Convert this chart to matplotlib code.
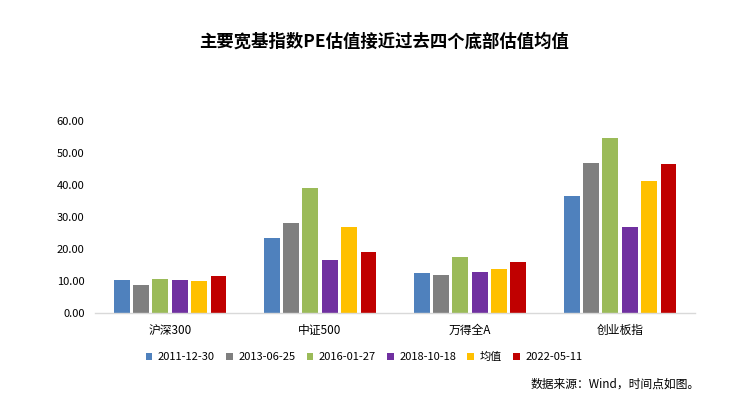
"""主要宽基指数PE估值对比图。"""
import numpy as np
import matplotlib
matplotlib.use("Agg")
import matplotlib.pyplot as plt

plt.rcParams["font.family"] = ["Noto Sans CJK SC", "DejaVu Sans"]

indices = ["沪深300", "中证500", "万得全A", "创业板指"]
series_names = ["2011-12-30", "2013-06-25", "2016-01-27", "2018-10-18", "均值", "2022-05-11"]
pe_2011 = [10.2, 23.4, 12.4, 36.5]
pe_2013 = [8.7, 28.0, 11.8, 46.8]
pe_2016 = [10.5, 39.0, 17.4, 54.6]
pe_2018 = [10.2, 16.5, 12.7, 26.8]
pe_mean = [9.9, 26.8, 13.6, 41.2]
pe_2022 = [11.5, 19.0, 15.9, 46.5]
yticks = [0, 10, 20, 30, 40, 50, 60]

COLORES = ["#4f81bd", "#7f7f7f", "#9bbb59", "#7030a0", "#ffc000", "#c00000"]

fig = plt.figure(figsize=(7.33, 4.08), dpi=100)
ax = fig.add_axes([95 / 733, (408 - 313) / 408, 600 / 733, 192 / 408])

x = np.arange(len(indices))
slot = 0.129
w = 0.105
datos = [pe_2011, pe_2013, pe_2016, pe_2018, pe_mean, pe_2022]
for i, (vals, name) in enumerate(zip(datos, series_names)):
    ax.bar(x + (i - 2.5) * slot, vals, w, color=COLORES[i], label=name)

ax.set_xlim(-0.5, len(indices) - 0.5)
ax.set_ylim(0, 60)
ax.set_yticks(yticks)
ax.set_yticklabels([f"{v:.2f}" for v in yticks], fontsize=8)
ax.set_xticks(x)
ax.set_xticklabels(indices, fontsize=8.5)
ax.tick_params(axis="x", length=0, pad=8)
ax.tick_params(axis="y", length=0, pad=7.5)
for s in ["top", "right", "left"]:
    ax.spines[s].set_visible(False)
ax.spines["bottom"].set_color("#d9d9d9")
ax.spines["bottom"].set_linewidth(1.0)

fig.text(384 / 733, 1 - 42 / 408, "主要宽基指数PE估值接近过去四个底部估值均值",
         ha="center", va="center", fontsize=12.5, fontweight="bold")
ax.legend(loc="center", bbox_to_anchor=((364 - 95) / 600, (313 - 357) / 192), ncol=6,
          frameon=False, fontsize=8, handlelength=0.6, handleheight=0.6,
          handletextpad=0.5, columnspacing=1.0)
fig.text(700 / 733, 1 - 384 / 408, "数据来源：Wind，时间点如图。",
         ha="right", va="center", fontsize=8.5)

fig.savefig("out.png", dpi=100, facecolor="white")
plt.close(fig)
